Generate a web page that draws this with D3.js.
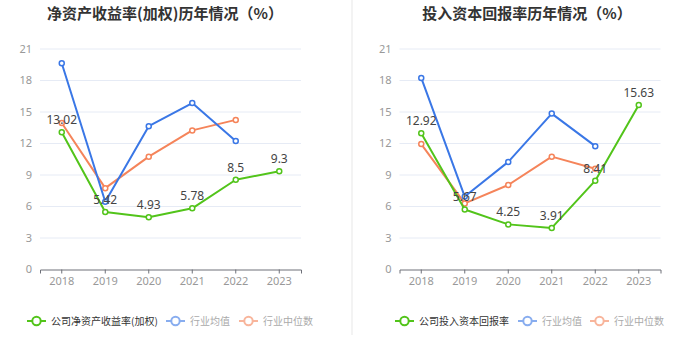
<!DOCTYPE html>
<html lang="zh">
<head>
<meta charset="utf-8">
<script src="https://d3js.org/d3.v7.min.js"></script>
<style>
  *{margin:0;padding:0}
  body{width:700px;height:359px;background:#fff;overflow:hidden;font-family:"Noto Sans CJK SC","Noto Sans",sans-serif}
  svg{display:block}
</style>
</head>
<body>
<script>
const years = ['2018','2019','2020','2021','2022','2023'];
const yTicks = [0,3,6,9,12,15,18,21];

// 净资产收益率(加权)
const roeCompany = [13.02,5.42,4.93,5.78,8.5,9.3];
const roeAvg = [19.6,6.4,13.6,15.8,12.2,null];
const roeMedian = [13.9,7.7,10.7,13.2,14.2,null];

// 投入资本回报率
const roicCompany = [12.92,5.67,4.25,3.91,8.41,15.63];
const roicAvg = [18.2,6.9,10.2,14.8,11.7,null];
const roicMedian = [11.9,6.25,8.0,10.7,9.55,null];

const green = '#52c41a', blue = '#3a77e6', orange = '#f5845a';

const svg = d3.select('body').append('svg').attr('width',700).attr('height',359);

// divider
svg.append('rect').attr('x',351).attr('y',0).attr('width',2).attr('height',335).attr('fill','#f3f3f3');

function drawChart(opts){
  const g = svg.append('g');
  const x = d3.scaleBand().domain(years).range([opts.x0, opts.x1]);
  const y = d3.scaleLinear().domain([0,21]).range([269,48.5]);

  g.append('text').attr('x',opts.titleX).attr('y',19).attr('text-anchor','middle')
    .attr('font-size',15).attr('font-weight','bold').attr('fill','#333').text(opts.title);

  // grid
  g.selectAll('.grid').data(yTicks.filter(d=>d>0)).enter().append('line')
    .attr('x1',opts.x0).attr('x2',opts.x1)
    .attr('y1',d=>y(d)+0.5).attr('y2',d=>y(d)+0.5)
    .attr('stroke','#e6ebf5').attr('stroke-width',1);

  const yAxis = g.append('g').attr('transform',`translate(${opts.x0},0)`)
    .call(d3.axisLeft(y).tickValues(yTicks).tickSize(0).tickPadding(8));
  yAxis.select('.domain').remove();
  yAxis.selectAll('text').attr('fill','#999').attr('font-size',11).attr('font-family','"Noto Sans",sans-serif');

  const xAxis = g.append('g').attr('transform','translate(0,269.5)')
    .call(d3.axisBottom(x).tickSizeOuter(0).tickSize(4).tickPadding(4));
  xAxis.select('.domain').attr('stroke','#6e7079');
  xAxis.selectAll('.tick line').attr('stroke','#6e7079');
  xAxis.selectAll('text').attr('fill','#999').attr('font-size',11).attr('font-family','"Noto Sans",sans-serif');

  const cx = d => x(d) + x.bandwidth()/2;
  const series = [
    {vals:opts.median,color:orange},
    {vals:opts.avg,color:blue},
    {vals:opts.company,color:green,labels:true}
  ];
  series.forEach(s=>{
    const pts = years.map((yr,i)=>({yr,v:s.vals[i]})).filter(p=>p.v!=null);
    const line = d3.line().x(p=>cx(p.yr)).y(p=>y(p.v));
    g.append('path').datum(pts).attr('d',line).attr('fill','none')
      .attr('stroke',s.color).attr('stroke-width',2).attr('stroke-linejoin','round');
    g.selectAll(null).data(pts).enter().append('circle')
      .attr('cx',p=>cx(p.yr)).attr('cy',p=>y(p.v)).attr('r',2.5)
      .attr('fill','#fff').attr('stroke',s.color).attr('stroke-width',1.5);
    if(s.labels){
      g.selectAll(null).data(pts).enter().append('text')
        .attr('x',p=>cx(p.yr)).attr('y',p=>y(p.v)-8).attr('text-anchor','middle')
        .attr('font-size',12).attr('fill','#444').attr('font-family','"Noto Sans",sans-serif')
        .text(p=>p.v);
    }
  });

  // legend
  const lg = g.append('g').attr('transform','translate(0,321)');
  const items = [
    {name:opts.legendName,color:green,text:'#333',op:1},
    {name:'行业均值',color:blue,text:'#aaa',op:0.6},
    {name:'行业中位数',color:orange,text:'#aaa',op:0.6}
  ];
  items.forEach((it,i)=>{
    const lx = opts.legendX[i];
    const ig = lg.append('g').attr('transform',`translate(${lx},0)`).attr('opacity',it.op);
    ig.append('line').attr('x1',0).attr('x2',19).attr('y1',0).attr('y2',0)
      .attr('stroke',it.color).attr('stroke-width',2);
    ig.append('circle').attr('cx',9.5).attr('cy',0).attr('r',4.2)
      .attr('fill','#fff').attr('stroke',it.color).attr('stroke-width',2);
    lg.append('text').attr('x',lx+24).attr('y',4).attr('font-size',10)
      .attr('fill',it.text).text(it.name);
  });
}

drawChart({title:'净资产收益率(加权)历年情况（%）',titleX:165,x0:40,x1:301,
  company:roeCompany,avg:roeAvg,median:roeMedian,legendName:'公司净资产收益率(加权)',legendX:[27,166,239]});
drawChart({title:'投入资本回报率历年情况（%）',titleX:527,x0:399.5,x1:660.5,
  company:roicCompany,avg:roicAvg,median:roicMedian,legendName:'公司投入资本回报率',legendX:[395,518,590]});
</script>
</body>
</html>
